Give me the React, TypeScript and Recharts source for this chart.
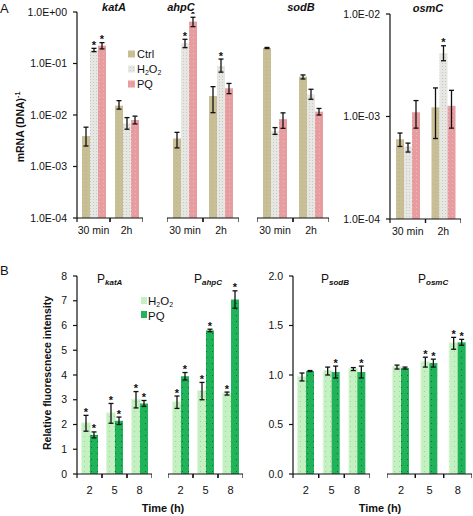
import React from 'react';
import { BarChart, Bar, XAxis, YAxis, ErrorBar } from 'recharts';

// ---------------- Panel A : mRNA (DNA)^-1, log scale ----------------
const timesA = ['30 min', '2h'];
const legendA = ['Ctrl', 'H2O2', 'PQ'];
const ticksA = [1e-4, 1e-3, 1e-2, 1e-1, 1];
const ticksA_osmC = [1e-4, 1e-3, 1e-2];

const katA_ctrl = [0.0039, 0.0152];
const katA_ctrl_err = [[0.0025, 0.0058], [0.013, 0.019]];
const katA_h2o2 = [0.183, 0.0068];
const katA_h2o2_err = [[0.17, 0.197], [0.0053, 0.0089]];
const katA_pq = [0.222, 0.008];
const katA_pq_err = [[0.192, 0.254], [0.0067, 0.0095]];
const katA_sig = [[false, false], [true, false], [true, false]];

const ahpC_ctrl = [0.0035, 0.0234];
const ahpC_ctrl_err = [[0.0023, 0.0046], [0.0111, 0.0355]];
const ahpC_h2o2 = [0.246, 0.089];
const ahpC_h2o2_err = [[0.203, 0.295], [0.068, 0.122]];
const ahpC_pq = [0.65, 0.033];
const ahpC_pq_err = [[0.52, 0.79], [0.026, 0.041]];
const ahpC_sig = [[false, false], [true, true], [true, false]];

const sodB_ctrl = [0.2, 0.0555];
const sodB_ctrl_err = [[0.195, 0.205], [0.05, 0.06]];
const sodB_h2o2 = [0.0049, 0.025];
const sodB_h2o2_err = [[0.0042, 0.0057], [0.0202, 0.0316]];
const sodB_pq = [0.0083, 0.0116];
const sodB_pq_err = [[0.0055, 0.011], [0.01, 0.0134]];
const sodB_sig = [[false, false], [false, false], [false, false]];

const osmC_ctrl = [0.0006, 0.00123];
const osmC_ctrl_err = [[0.00051, 0.00069], [0.00061, 0.0019]];
const osmC_h2o2 = [0.00051, 0.00414];
const osmC_h2o2_err = [[0.00045, 0.00055], [0.0035, 0.0049]];
const osmC_pq = [0.0011, 0.00127];
const osmC_pq_err = [[0.00077, 0.00143], [0.00077, 0.0018]];
const osmC_sig = [[false, false], [false, true], [false, false]];

// ---------------- Panel B : relative fluorescence ----------------
const timesB = ['2', '5', '8'];
const legendB = ['H2O2', 'PQ'];
const ticksB_left = [0, 1, 2, 3, 4, 5, 6, 7, 8];
const ticksB_right = [0, 0.5, 1, 1.5, 2];

const PkatA_h2o2 = [2.05, 2.45, 3.0];
const PkatA_h2o2_err = [0.32, 0.4, 0.33];
const PkatA_pq = [1.58, 2.15, 2.85];
const PkatA_pq_err = [0.12, 0.15, 0.12];
const PkatA_sig = [[true, true, true], [true, true, true]];

const PahpC_h2o2 = [2.9, 3.35, 3.25];
const PahpC_h2o2_err = [0.25, 0.35, 0.06];
const PahpC_pq = [3.95, 5.8, 7.05];
const PahpC_pq_err = [0.15, 0.05, 0.35];
const PahpC_sig = [[true, true, true], [true, true, true]];

const PsodB_h2o2 = [0.98, 1.04, 1.06];
const PsodB_h2o2_err = [0.04, 0.04, 0.015];
const PsodB_pq = [1.04, 1.03, 1.03];
const PsodB_pq_err = [0.005, 0.06, 0.06];
const PsodB_sig = [[false, false, false], [false, true, true]];

const PosmC_h2o2 = [1.08, 1.13, 1.32];
const PosmC_h2o2_err = [0.02, 0.05, 0.06];
const PosmC_pq = [1.07, 1.12, 1.33];
const PosmC_pq_err = [0.01, 0.04, 0.03];
const PosmC_sig = [[false, true, true], [false, true, true]];

// ---------------- styles ----------------
const FILL_CTRL = 'url(#pCtrl)';
const FILL_H2O2 = 'url(#pH2)';
const FILL_PQ = 'url(#pPQ)';
const FILL_LG = 'url(#pLG)';
const FILL_DG = 'url(#pDG)';
const INK = '#111';
const TS = 4;

type Err = number | number[];
type Series = { key: string; values: number[]; err: Err[]; sig: boolean[]; fill: string; halo?: boolean };

const fmtE = (v: number) => {
  const e = Math.round(Math.log10(v));
  const sign = e < 0 ? '-' : '+';
  return `1.0E${sign}${String(Math.abs(e)).padStart(2, '0')}`;
};
const fmt1 = (v: number) => v.toFixed(1);
const fmt0 = (v: number) => String(v);

const makeShape = (key: string, log: boolean, dmin: number, halo?: boolean) => (props: any) => {
  const { x, y, width, height, payload, fill } = props;
  if (width == null || height == null) return null;
  const v = payload[key];
  const hi = payload[key + 'H'];
  let star: React.ReactNode = null;
  if (payload[key + 'S'] && height > 0) {
    let px;
    if (log) {
      const perDec = height / (Math.log10(v) - Math.log10(dmin));
      px = perDec * (Math.log10(hi) - Math.log10(v));
    } else {
      px = (height / v) * (hi - v);
    }
    star = (
      <text x={x + width / 2} y={y - px + 0.5} textAnchor="middle" fontSize={11} fontWeight="bold" fill={INK}>
        *
      </text>
    );
  }
  return (
    <g>
      {halo && <rect x={x - 1} y={y - 1} width={width + 2} height={height + 3} fill="#d6f5d2" opacity={0.8} />}
      <rect x={x} y={y} width={width} height={height} fill={fill} />
      {star}
    </g>
  );
};

const XTick = (props: any) => {
  const { x, y, payload, gap, fontSize } = props;
  const off = payload && payload.offset ? payload.offset : 0;
  const ay = y - gap;
  return (
    <g>
      {off > 0 && <line x1={x - off} x2={x - off} y1={ay} y2={ay + TS} stroke={INK} strokeWidth={1.2} />}
      {off > 0 && <line x1={x + off} x2={x + off} y1={ay} y2={ay + TS} stroke={INK} strokeWidth={1.2} />}
      <text x={x} y={y} dy="0.72em" textAnchor="middle" fontSize={fontSize} fill={INK}>
        {payload.value}
      </text>
    </g>
  );
};

type PanelProps = {
  left: number;
  top: number;
  width: number;
  height: number;
  marginTop: number;
  xH: number;
  labelGap: number;
  xFont: number;
  cats: string[];
  series: Series[];
  log: boolean;
  domain: [number, number];
  ticks: number[];
  showY: boolean;
  yFmt: (v: number) => string;
};

function Panel(p: PanelProps) {
  const data = p.cats.map((c, i) => {
    const row: any = { cat: c };
    p.series.forEach((s) => {
      const v = s.values[i];
      const e = s.err[i];
      const lo = Array.isArray(e) ? e[0] : v - e;
      const hi = Array.isArray(e) ? e[1] : v + e;
      row[s.key] = v;
      row[s.key + 'E'] = [v - lo, hi - v];
      row[s.key + 'H'] = hi;
      row[s.key + 'S'] = s.sig[i];
    });
    return row;
  });
  const gap = TS + p.labelGap;
  return (
    <div style={{ position: 'absolute', left: p.left, top: p.top }}>
      <BarChart
        width={p.width}
        height={p.height}
        data={data}
        margin={{ top: p.marginTop, right: 0, bottom: 0, left: 0 }}
        barGap={0}
        barCategoryGap={0}
      >
        <XAxis
          dataKey="cat"
          height={p.xH}
          axisLine={{ stroke: INK, strokeWidth: 1.2 }}
          tickLine={false}
          tickSize={TS}
          tickMargin={p.labelGap}
          interval={0}
          tick={(tp: any) => <XTick {...tp} gap={gap} fontSize={p.xFont} />}
        />
        <YAxis
          hide={!p.showY}
          width={p.showY ? 60 : 0}
          type="number"
          scale={p.log ? 'log' : 'linear'}
          domain={p.domain}
          ticks={p.ticks}
          allowDataOverflow
          interval={0}
          tickFormatter={p.yFmt}
          tickSize={4}
          tickMargin={6}
          axisLine={{ stroke: INK, strokeWidth: 1.2 }}
          tickLine={{ stroke: INK, strokeWidth: 1.2 }}
          tick={{ fontSize: 10.5, fill: INK }}
        />
        {p.series.map((s) => (
          <Bar
            key={s.key}
            dataKey={s.key}
            fill={s.fill}
            barSize={8}
            isAnimationActive={false}
            shape={makeShape(s.key, p.log, p.domain[0], s.halo)}
          >
            <ErrorBar dataKey={s.key + 'E'} width={2.5} stroke={INK} strokeWidth={1.3} direction="y" />
          </Bar>
        ))}
      </BarChart>
    </div>
  );
}

const aSeries = (
  ctrl: number[], ce: number[][], h: number[], he: number[][], pq: number[], pe: number[][], sig: boolean[][]
): Series[] => [
  { key: 'ctrl', values: ctrl, err: ce, sig: sig[0], fill: FILL_CTRL },
  { key: 'h2o2', values: h, err: he, sig: sig[1], fill: FILL_H2O2 },
  { key: 'pq', values: pq, err: pe, sig: sig[2], fill: FILL_PQ },
];
const bSeries = (h: number[], he: number[], pq: number[], pe: number[], sig: boolean[][]): Series[] => [
  { key: 'h2o2', values: h, err: he, sig: sig[0], fill: FILL_LG, halo: true },
  { key: 'pq', values: pq, err: pe, sig: sig[1], fill: FILL_DG },
];

const sub = (t: string, fs: number) => (
  <tspan fontSize={fs} dy={fs * 0.3}>
    {t}
  </tspan>
);

export default function App() {
  const A = { top: 0, height: 250, marginTop: 12, xH: 32, labelGap: 4, xFont: 10.5 };
  const B = { top: 264, height: 245, marginTop: 12, xH: 35, labelGap: 8, xFont: 11 };
  return (
    <div
      style={{
        position: 'absolute',
        left: 0,
        top: 0,
        width: 473,
        height: 516,
        background: '#fff',
        fontFamily: '"Liberation Sans", Arial, Helvetica, sans-serif',
      }}
    >
      <svg width={0} height={0} style={{ position: 'absolute' }}>
        <defs>
          <pattern id="pCtrl" width="4" height="4" patternUnits="userSpaceOnUse">
            <rect width="4" height="4" fill="#c9bf96" />
            <rect x="1" y="2" width="1" height="1" fill="#bdb388" />
          </pattern>
          <pattern id="pH2" width="3" height="3" patternUnits="userSpaceOnUse">
            <rect width="3" height="3" fill="#e6e6e3" />
            <rect x="1" y="1" width="1" height="1" fill="#c8c8c4" />
          </pattern>
          <pattern id="pPQ" width="4" height="4" patternUnits="userSpaceOnUse">
            <rect width="4" height="4" fill="#e79c9f" />
            <rect x="2" y="1" width="1" height="1" fill="#f0b8ba" />
          </pattern>
          <pattern id="pLG" width="5" height="5" patternUnits="userSpaceOnUse">
            <rect width="5" height="5" fill="#c5f0c1" />
            <rect x="2" y="2" width="1" height="1" fill="#98d892" />
          </pattern>
          <pattern id="pDG" width="6" height="6" patternUnits="userSpaceOnUse">
            <rect width="6" height="6" fill="#20b35a" />
            <rect x="2" y="3" width="1" height="1" fill="#0e6f33" />
          </pattern>
        </defs>
      </svg>

      {/* Panel A */}
      <Panel {...A} left={17} width={126} cats={timesA} log domain={[1e-4, 1]} ticks={ticksA} showY yFmt={fmtE}
        series={aSeries(katA_ctrl, katA_ctrl_err, katA_h2o2, katA_h2o2_err, katA_pq, katA_pq_err, katA_sig)} />
      <Panel {...A} left={167} width={72} cats={timesA} log domain={[1e-4, 1]} ticks={ticksA} showY={false} yFmt={fmtE}
        series={aSeries(ahpC_ctrl, ahpC_ctrl_err, ahpC_h2o2, ahpC_h2o2_err, ahpC_pq, ahpC_pq_err, ahpC_sig)} />
      <Panel {...A} left={257} width={72} cats={timesA} log domain={[1e-4, 1]} ticks={ticksA} showY={false} yFmt={fmtE}
        series={aSeries(sodB_ctrl, sodB_ctrl_err, sodB_h2o2, sodB_h2o2_err, sodB_pq, sodB_pq_err, sodB_sig)} />
      <Panel {...A} top={2} height={249} left={330} width={131} cats={timesA} log domain={[1e-4, 1e-2]} ticks={ticksA_osmC} showY yFmt={fmtE}
        series={aSeries(osmC_ctrl, osmC_ctrl_err, osmC_h2o2, osmC_h2o2_err, osmC_pq, osmC_pq_err, osmC_sig)} />

      {/* Panel B */}
      <Panel {...B} left={17} width={135} cats={timesB} log={false} domain={[0, 8]} ticks={ticksB_left} showY yFmt={fmt0}
        series={bSeries(PkatA_h2o2, PkatA_h2o2_err, PkatA_pq, PkatA_pq_err, PkatA_sig)} />
      <Panel {...B} left={168} width={75} cats={timesB} log={false} domain={[0, 8]} ticks={ticksB_left} showY={false} yFmt={fmt0}
        series={bSeries(PahpC_h2o2, PahpC_h2o2_err, PahpC_pq, PahpC_pq_err, PahpC_sig)} />
      <Panel {...B} left={233} width={137} cats={timesB} log={false} domain={[0, 2]} ticks={ticksB_right} showY yFmt={fmt1}
        series={bSeries(PsodB_h2o2, PsodB_h2o2_err, PsodB_pq, PsodB_pq_err, PsodB_sig)} />
      <Panel {...B} left={387} width={85} cats={timesB} log={false} domain={[0, 2]} ticks={ticksB_right} showY={false} yFmt={fmt1}
        series={bSeries(PosmC_h2o2, PosmC_h2o2_err, PosmC_pq, PosmC_pq_err, PosmC_sig)} />

      {/* Text overlay */}
      <svg width={473} height={516} style={{ position: 'absolute', left: 0, top: 0, pointerEvents: 'none' }}>
        <text x={0} y={13} fontSize={13} fill={INK}>A</text>
        <text x={0} y={275} fontSize={13} fill={INK}>B</text>

        <g fontSize={11} fontWeight="bold" fontStyle="italic" fill={INK} textAnchor="middle">
          <text x={114} y={10.5}>katA</text>
          <text x={181} y={10.5}>ahpC</text>
          <text x={301} y={10.5}>sodB</text>
          <text x={428} y={12}>osmC</text>
        </g>

        <text transform="translate(24,127) rotate(-90)" textAnchor="middle" fontSize={10.5} fontWeight="bold" fill={INK}>
          mRNA (DNA)<tspan fontSize={7} dy={-4}>-1</tspan>
        </text>
        <text transform="translate(51,373) rotate(-90)" textAnchor="middle" fontSize={10.5} fontWeight="bold" fill={INK}>
          Relative fluorescnece intensity
        </text>

        {/* legend A */}
        <rect x={128} y={50.5} width={7} height={7} fill={FILL_CTRL} />
        <text x={137} y={58} fontSize={11} fill={INK}>{legendA[0]}</text>
        <rect x={128} y={65.5} width={7} height={7} fill={FILL_H2O2} />
        <text x={137} y={73} fontSize={11} fill={INK}>
          H{sub('2', 7)}<tspan dy={-2.1}>O</tspan>{sub('2', 7)}
        </text>
        <rect x={128} y={80.5} width={7} height={7} fill={FILL_PQ} />
        <text x={137} y={88} fontSize={11} fill={INK}>{legendA[2]}</text>

        {/* legend B */}
        <rect x={141} y={297} width={6} height={7} fill="#c5f0c1" />
        <text x={148} y={305} fontSize={11.5} fill={INK}>
          H{sub('2', 7)}<tspan dy={-2.1}>O</tspan>{sub('2', 7)}
        </text>
        <rect x={141} y={311} width={6} height={7} fill="#20b35a" />
        <text x={148} y={319.5} fontSize={11.5} fill={INK}>{legendB[1]}</text>

        {/* panel B titles */}
        <g fill={INK} fontSize={12}>
          <text x={97} y={283}>P<tspan fontSize={8} fontWeight="bold" fontStyle="italic" dy={2}>katA</tspan></text>
          <text x={194} y={283}>P<tspan fontSize={8} fontWeight="bold" fontStyle="italic" dy={2}>ahpC</tspan></text>
          <text x={321} y={283}>P<tspan fontSize={8} fontWeight="bold" fontStyle="italic" dy={2}>sodB</tspan></text>
          <text x={418} y={283}>P<tspan fontSize={8} fontWeight="bold" fontStyle="italic" dy={2}>osmC</tspan></text>
        </g>

        <g fontSize={11} fontWeight="bold" fill={INK} textAnchor="middle">
          <text x={163} y={512}>Time (h)</text>
          <text x={380} y={512}>Time (h)</text>
        </g>
      </svg>
    </div>
  );
}
